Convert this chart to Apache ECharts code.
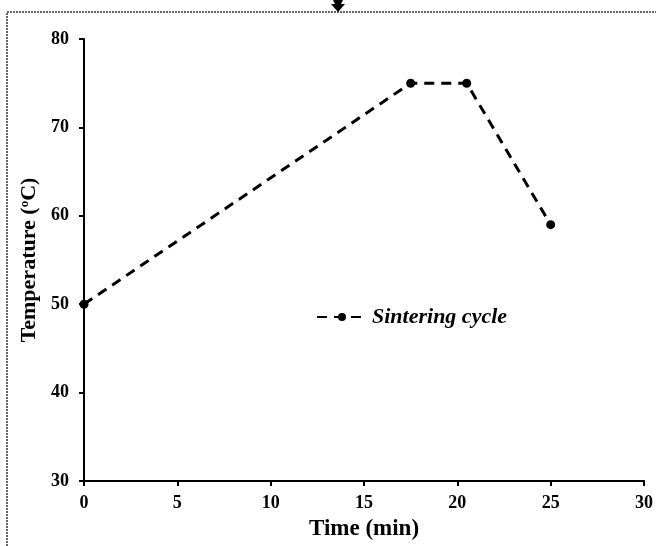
<!DOCTYPE html>
<html>
<head>
<meta charset="utf-8">
<script src="https://cdn.jsdelivr.net/npm/echarts@6.0.0/dist/echarts.min.js"></script>
<style>
  html, body { margin: 0; padding: 0; background: #fff; }
  #main { width: 656px; height: 546px; }
</style>
</head>
<body>
<div id="main"></div>
<script>
// 数据：烧结循环 时间(min) / 温度(°C)
var timeMin = [0, 17.5, 20.5, 25];
var tempC = [50, 75, 75, 59];
var seriesName = 'Sintering cycle';

var points = timeMin.map(function (t, i) { return [t, tempC[i]]; });

var chart = echarts.init(document.getElementById('main'));
var serif = '"Liberation Serif", "Times New Roman", serif';

var option = {
  backgroundColor: '#fff',
  animation: false,
  grid: { left: 84, right: 12, top: 39, bottom: 63 },
  legend: {
    data: [seriesName],
    left: 311,
    top: 301,
    itemWidth: 50,
    itemHeight: 10,
    itemGap: 10,
    textStyle: {
      fontFamily: serif,
      fontSize: 22,
      fontStyle: 'italic',
      fontWeight: 'bold',
      color: '#000'
    }
  },
  xAxis: {
    type: 'value',
    min: 0, max: 30, interval: 5,
    name: 'Time (min)',
    nameLocation: 'middle',
    nameGap: 37,
    nameTextStyle: { fontFamily: serif, fontSize: 23, fontWeight: 'bold', color: '#000' },
    axisLine: { show: true, lineStyle: { color: '#000', width: 2 } },
    axisTick: { show: true, length: 5, lineStyle: { color: '#000', width: 2 } },
    axisLabel: { fontFamily: serif, fontSize: 18, fontWeight: 'bold', color: '#000', margin: 13 },
    splitLine: { show: false }
  },
  yAxis: {
    type: 'value',
    min: 30, max: 80, interval: 10,
    name: '{a|Temperature (}{s|o}{a|C)}',
    nameLocation: 'middle',
    nameGap: 39,
    nameTextStyle: {
      rich: {
        a: { fontFamily: serif, fontSize: 22, fontWeight: 'bold', color: '#000' },
        s: { fontFamily: serif, fontSize: 13, fontWeight: 'bold', color: '#000', verticalAlign: 'top', padding: [0, 0, 9, 0] }
      }
    },
    axisLine: { show: true, lineStyle: { color: '#000', width: 2 } },
    axisTick: { show: true, length: 5, lineStyle: { color: '#000', width: 2 } },
    axisLabel: { fontFamily: serif, fontSize: 18, fontWeight: 'bold', color: '#000', margin: 15 },
    splitLine: { show: false }
  },
  series: [{
    name: seriesName,
    type: 'line',
    data: points,
    symbol: 'circle',
    symbolSize: 9,
    itemStyle: { color: '#000' },
    lineStyle: { color: '#000', width: 3, type: [10, 7] }
  }],
  graphic: [
    {
      type: 'polyline',
      shape: { points: [[7, 546], [7, 12], [656, 12]] },
      style: { stroke: '#333', lineWidth: 1.5, fill: null, lineDash: [2, 1] }
    },
    {
      type: 'polygon',
      shape: { points: [[333, 0], [343, 0], [341, 4], [345, 4], [338, 12], [331, 4], [335, 4]] },
      style: { fill: '#000' }
    }
  ]
};

chart.setOption(option);
</script>
</body>
</html>
